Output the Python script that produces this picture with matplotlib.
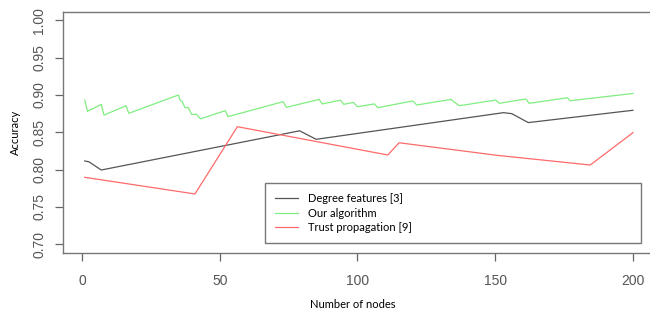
import matplotlib.pyplot as plt

# values
nodes_degree = [1, 2.5, 7, 79, 85, 153, 156, 162, 200]
acc_degree = [0.8116, 0.8105, 0.7995, 0.852, 0.8406, 0.8763, 0.875, 0.863, 0.8795]

nodes_ours = [1, 2, 7, 8, 16, 17, 35, 35.6, 36.4, 37.4, 38.6, 39.8, 41.6, 43,
              52, 53, 73, 74.2, 86.1, 87.2, 93.8, 95, 98.5, 100, 106.1, 107.4,
              120.1, 121.5, 134, 135.4, 137, 150.2, 151.4, 161.1, 162.3,
              176.2, 177.2, 200]
acc_ours = [0.893, 0.878, 0.8875, 0.873, 0.8856, 0.8754, 0.900, 0.893, 0.891,
            0.883, 0.883, 0.874, 0.874, 0.868, 0.879, 0.871, 0.891, 0.8835,
            0.894, 0.888, 0.893, 0.8875, 0.890, 0.8843, 0.888, 0.883, 0.892,
            0.8866, 0.894, 0.8897, 0.8856, 0.8932, 0.8888, 0.8946, 0.8888,
            0.8963, 0.8923, 0.902]

nodes_trust = [1, 41, 56.4, 111, 115.1, 151, 184.5, 200]
acc_trust = [0.7897, 0.7674, 0.8575, 0.8196, 0.836, 0.819, 0.8062, 0.8495]

x_ticks = [0, 50, 100, 150, 200]
y_ticks = [0.70, 0.75, 0.80, 0.85, 0.90, 0.95, 1.00]

label_font = ["Lato", "DejaVu Sans"]
tick_font = ["Liberation Sans", "DejaVu Sans"]

fig = plt.figure(figsize=(6.5, 3.12), dpi=100)
ax = fig.add_axes([0.0969, 0.190, 0.9108, 0.7724])

ax.plot(nodes_degree, acc_degree, color="#555555", linewidth=0.9,
        label="Degree features [3]")
ax.plot(nodes_ours, acc_ours, color="#80ee80", linewidth=0.9,
        label="Our algorithm")
ax.plot(nodes_trust, acc_trust, color="#ff6a6a", linewidth=0.9,
        label="Trust propagation [9]")

ax.set_xlim(-6.9, 208)
ax.set_ylim(0.6887, 1.0115)
ax.set_xticks(x_ticks)
ax.set_xticklabels([str(v) for v in x_ticks], family=tick_font)
ax.set_yticks(y_ticks)
ax.set_yticklabels([f"{v:.2f}" for v in y_ticks], rotation=90,
                   va="center", family=tick_font)
ax.tick_params(axis="both", colors="#666666", labelcolor="#555555",
               labelsize=10, length=6, width=0.9)
ax.tick_params(axis="x", pad=9)
ax.tick_params(axis="y", pad=6)
for side in ["left", "bottom", "top", "right"]:
    ax.spines[side].set_color("#777777")
    ax.spines[side].set_linewidth(1.0)

ax.set_xlabel("Number of nodes", family=label_font, fontsize=8)
ax.xaxis.set_label_coords(0.49, -0.19)
ax.set_ylabel("Accuracy", family=label_font, fontsize=8, labelpad=8)

leg = ax.legend(loc="lower left", bbox_to_anchor=(265 / 650, (312 - 243) / 312,
                                                  376 / 650, 59 / 312),
                bbox_transform=fig.transFigure, mode="expand",
                prop={"family": label_font, "size": 8}, fancybox=False,
                borderpad=0.9, labelspacing=0.3, handlelength=2.1,
                handletextpad=0.9, borderaxespad=0)
leg.get_frame().set_edgecolor("#555555")
leg.get_frame().set_linewidth(1.0)

fig.savefig("out.png", dpi=100)
